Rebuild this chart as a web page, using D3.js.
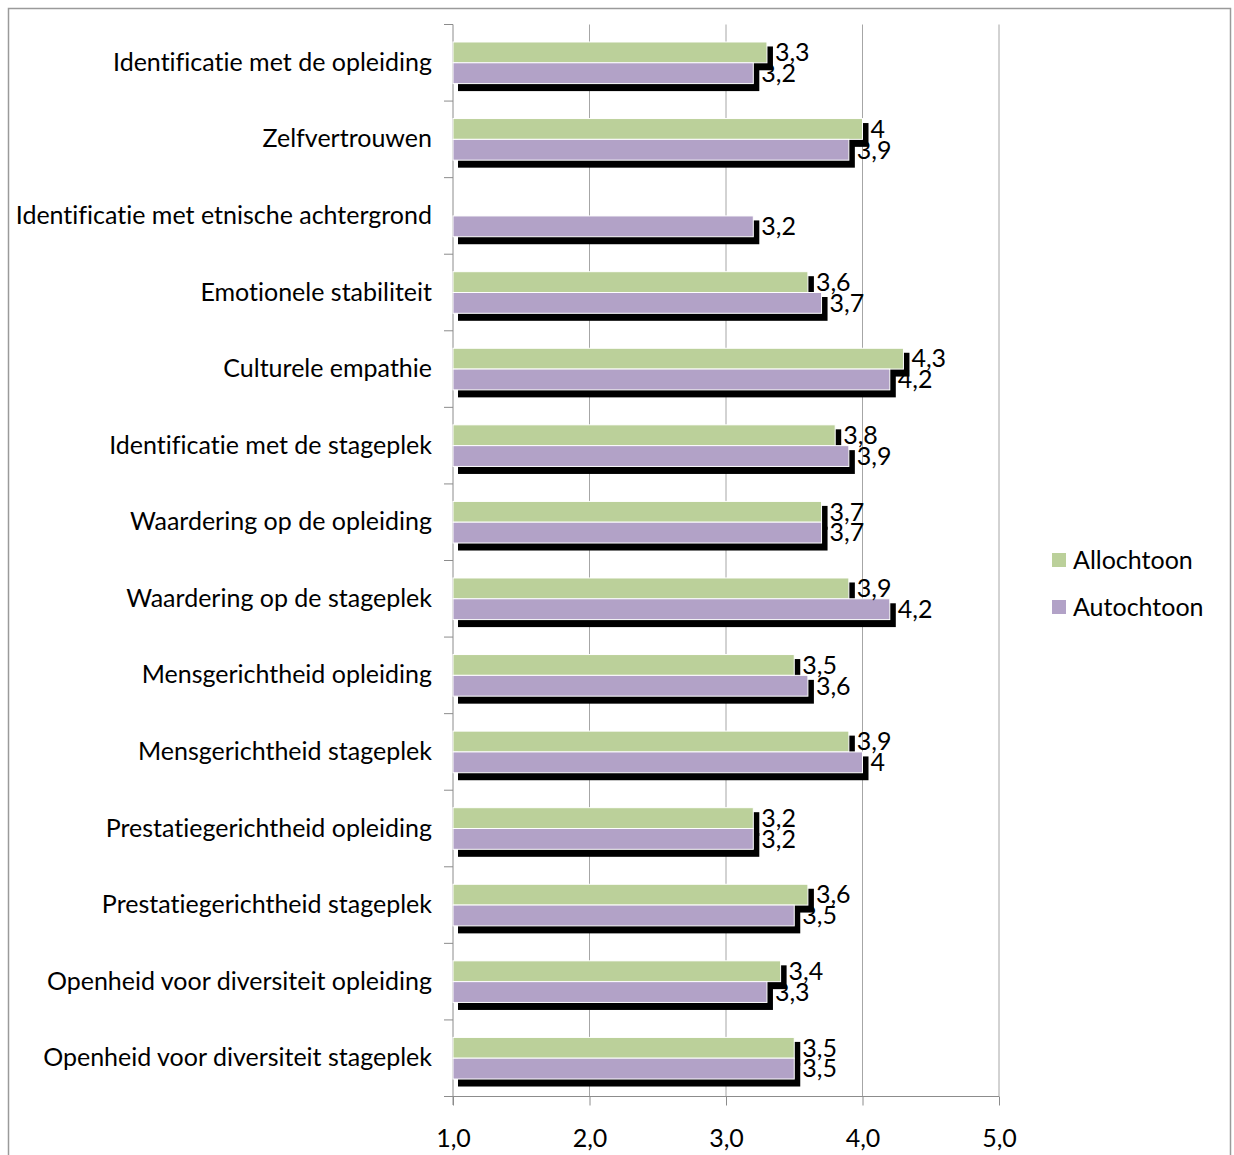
<!DOCTYPE html>
<html><head><meta charset="utf-8">
<script src="https://cdn.jsdelivr.net/npm/d3@7"></script>
<style>body{margin:0;background:#fff}svg{display:block}text{font-family:Lato,"Open Sans",sans-serif;fill:#000;font-variant-ligatures:none;font-feature-settings:"liga" 0}</style>
</head><body>
<script>
const categories = [
  "Identificatie met de opleiding",
  "Zelfvertrouwen",
  "Identificatie met etnische achtergrond",
  "Emotionele stabiliteit",
  "Culturele empathie",
  "Identificatie met de stageplek",
  "Waardering op de opleiding",
  "Waardering op de stageplek",
  "Mensgerichtheid opleiding",
  "Mensgerichtheid stageplek",
  "Prestatiegerichtheid opleiding",
  "Prestatiegerichtheid stageplek",
  "Openheid voor diversiteit opleiding",
  "Openheid voor diversiteit stageplek"
];
const seriesNames = ["Allochtoon", "Autochtoon"];
const allochtoon = [3.3, 4, null, 3.6, 4.3, 3.8, 3.7, 3.9, 3.5, 3.9, 3.2, 3.6, 3.4, 3.5];
const autochtoon = [3.2, 3.9, 3.2, 3.7, 4.2, 3.9, 3.7, 4.2, 3.6, 4, 3.2, 3.5, 3.3, 3.5];
const xTicks = [1, 2, 3, 4, 5];
const colors = ["#bbd09a", "#b2a2c7"];

const W = 1234, H = 1155;
const svg = d3.select("body").append("svg").attr("width", W).attr("height", H);

// outer frame
svg.append("rect").attr("x", 8.5).attr("y", 8.5).attr("width", 1222).attr("height", 1160)
  .attr("fill", "#fff").attr("stroke", "#9a9a9a").attr("stroke-width", 1.5);

const x = d3.scaleLinear().domain([1, 5]).range([453, 999]);
const y = d3.scaleBand().domain(categories).range([24.5, 1096.5]).padding(0);
const ySub = d3.scaleBand().domain(seriesNames).range([0, y.bandwidth()]).paddingOuter(0.84).paddingInner(0);

const fs = 25;

// gridlines
svg.append("g").selectAll("line").data(xTicks.slice(1)).join("line")
  .attr("x1", d => x(d)).attr("x2", d => x(d))
  .attr("y1", 24.5).attr("y2", 1096.5)
  .attr("stroke", "#a6a6a6").attr("stroke-width", 1);

// x axis
const xAxis = d3.axisBottom(x).tickValues(xTicks).tickSize(9).tickPadding(31)
  .tickFormat(d => d3.format(".1f")(d).replace(".", ","));
const gx = svg.append("g").attr("transform", "translate(0,1096.5)").call(xAxis);
gx.select(".domain").remove();
gx.append("line").attr("x1", 444).attr("x2", x(5)).attr("stroke", "#8c8c8c");
gx.selectAll(".tick line").attr("stroke", "#8c8c8c");
gx.selectAll(".tick text").attr("font-size", fs).attr("font-family", "Lato").attr("fill", "#000").attr("dy", "0.4em");

// y axis
const yAxis = d3.axisLeft(y).tickSize(0).tickPadding(21).tickFormat(d => d);
const gy = svg.append("g").attr("transform", `translate(${x(1)},0)`).call(yAxis);
gy.select(".domain").remove();
gy.selectAll(".tick text").attr("font-size", fs).attr("font-family", "Lato").attr("fill", "#000");
// y axis line and category boundary ticks
svg.append("line").attr("x1", x(1)).attr("x2", x(1)).attr("y1", 24.5).attr("y2", 1105)
  .attr("stroke", "#8c8c8c");
const bounds = categories.map(c => y(c)).concat([y.range()[1]]);
svg.append("g").selectAll("line").data(bounds).join("line")
  .attr("x1", 444).attr("x2", x(1)).attr("y1", d => d).attr("y2", d => d)
  .attr("stroke", "#8c8c8c");

// bar data
const bars = [];
categories.forEach((c, i) => {
  [allochtoon[i], autochtoon[i]].forEach((v, s) => {
    if (v != null) bars.push({cat: c, s, v});
  });
});

const gBars = svg.append("g");
// shadows
gBars.selectAll("rect.sh").data(bars).join("rect").attr("class", "sh")
  .attr("x", x(1) + 5)
  .attr("y", d => y(d.cat) + ySub(seriesNames[d.s]) + 4.5)
  .attr("width", d => x(d.v) - x(1) + 1)
  .attr("height", ySub.bandwidth() + 3)
  .attr("fill", "#000");
// bars
gBars.selectAll("rect.bar").data(bars).join("rect").attr("class", "bar")
  .attr("x", x(1))
  .attr("y", d => y(d.cat) + ySub(seriesNames[d.s]))
  .attr("width", d => x(d.v) - x(1))
  .attr("height", ySub.bandwidth())
  .attr("fill", d => colors[d.s])
  .attr("stroke", "#fff").attr("stroke-width", 1);
// labels
gBars.selectAll("text").data(bars).join("text")
  .attr("x", d => x(d.v) + 8)
  .attr("y", d => y(d.cat) + ySub(seriesNames[d.s]) + ySub.bandwidth() / 2)
  .attr("dy", "0.35em")
  .attr("font-size", fs)
  .text(d => String(d.v).replace(".", ","));

// legend
const lg = svg.append("g").selectAll("g").data(seriesNames).join("g")
  .attr("transform", (d, i) => `translate(1052,${553 + i * 47})`);
lg.append("rect").attr("width", 14).attr("height", 14).attr("fill", (d, i) => colors[i]);
lg.append("text").attr("x", 21).attr("y", 7).attr("dy", "0.35em").attr("font-size", fs).text(d => d);
</script>
</body></html>
